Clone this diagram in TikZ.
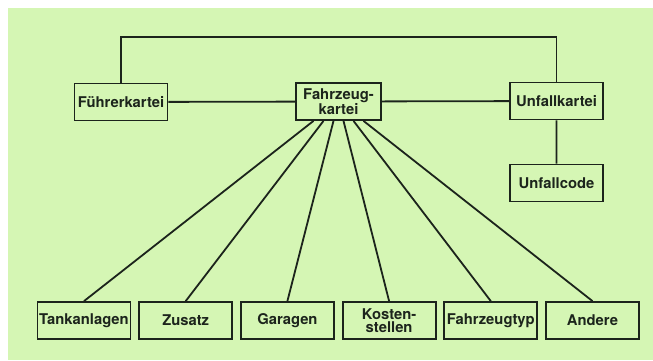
\documentclass[tikz,border=0pt]{standalone}
\usepackage{fontspec}
\setmainfont{TeX Gyre Heros}
\usepackage{tikz}
\definecolor{paper}{RGB}{213,246,180}
\definecolor{ink}{RGB}{28,36,28}
\tikzset{
    kartei/.style={
        draw=ink,
        line width=1.8pt,
        rectangle,
        align=center,
        inner sep=0,
        minimum width=93pt,
        minimum height=37pt,
        text=ink,
        font=\fontsize{14.8}{13.5}\selectfont\bfseries,
    },
    link/.style={
        draw=ink,
        line width=1.8pt,
    },
}

\begin{document}
\begin{tikzpicture}[x=1pt,y=-1pt]
            \useasboundingbox (0,0) rectangle (653,360);
            \fill[paper] (8,8) rectangle (653,360);

            \node[kartei] at (121, 102)  (fuehrer)   {Führerkartei};
            \node[kartei, minimum width=85pt] at (338.5, 101.5) (fahrzeug) {Fahrzeug-\\kartei};
            \node[kartei] at (556.5, 101) (unfall)    {Unfallkartei};
            \node[kartei] at (556.5, 183) (code)      {Unfallcode};

            \node[kartei] at (84, 320.5)    (tank)    {Tankanlagen};
            \node[kartei] at (185.7, 320.5) (zusatz)  {Zusatz};
            \node[kartei] at (287.4, 320.5) (garagen) {Garagen};
            \node[kartei] at (389.1, 320.5) (kosten)  {Kosten-\\stellen};
            \node[kartei] at (490.8, 320.5) (typ)     {Fahrzeugtyp};
            \node[kartei] at (592.5, 320.5) (andere)  {Andere};

            \coordinate (oben) at (338, 37);

            \draw[link] (fuehrer) -- (fahrzeug) -- (unfall) -- (code);
            \draw[link] (fuehrer.north) |- (oben) -| (unfall.north);

            \foreach \ziel [count=\i] in {tank, zusatz, garagen, kosten, typ, andere}
                \draw[link] ([xshift={(\i-3.5)*10pt}]fahrzeug.south) -- (\ziel.north);
        \end{tikzpicture}
\end{document}
